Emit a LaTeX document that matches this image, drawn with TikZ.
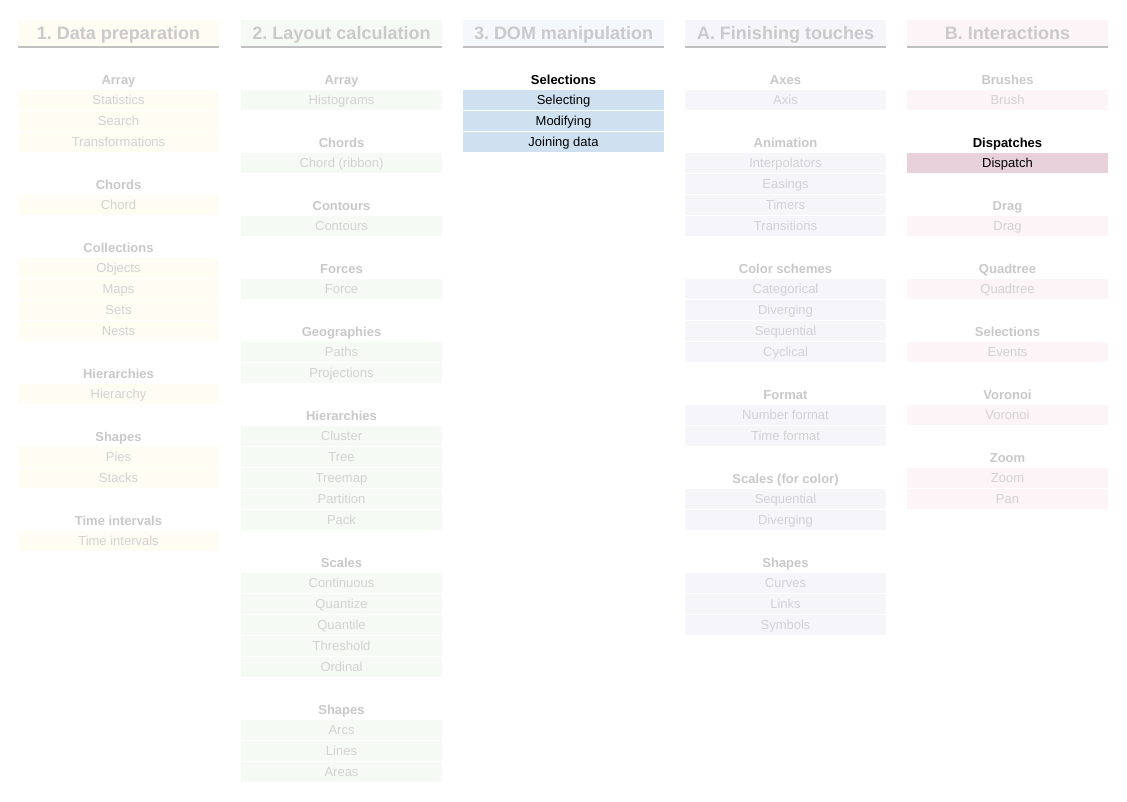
\documentclass[tikz,border=0pt]{standalone}
\usepackage{fontspec}
\setmainfont{Liberation Sans}
\frenchspacing
\definecolor{hdrtext}{HTML}{CACACA}
\definecolor{titletext}{HTML}{C8C8C8}
\definecolor{itemtext}{HTML}{D2D2D2}
\definecolor{hline}{HTML}{C0C0C0}
\definecolor{fillA}{HTML}{FFFCF4}
\definecolor{fillB}{HTML}{F6FAF4}
\definecolor{fillC}{HTML}{F4F7FB}
\definecolor{fillD}{HTML}{F6F6FA}
\definecolor{fillE}{HTML}{FCF4F6}
\definecolor{hiC}{HTML}{CFE1F1}
\definecolor{hiE}{HTML}{E9D1DB}
\colorlet{rowfill}{fillA}
\colorlet{hifill}{hiC}
\tikzset{
  hdr/.style={rectangle, inner sep=0pt, minimum width=201pt, minimum height=26pt,
    text height=15pt, text depth=2pt,
    text=hdrtext, font=\fontsize{18}{20}\selectfont\bfseries},
  hrule/.style={draw=hline, line width=2pt},
  kt/.style={inner sep=0pt, text height=11.5pt, text depth=1pt,
    text=titletext, font=\fontsize{13}{15}\selectfont\bfseries},
  kT/.style={kt, text=black},
  ki/.style={rectangle, inner sep=0pt, minimum width=201pt, minimum height=20pt,
    text height=11.5pt, text depth=1pt,
    fill=rowfill, text=itemtext, font=\fontsize{13}{15}\selectfont},
  kh/.style={ki, fill=hifill, text=black},
}
\newcommand\mycolumn[3]{%
  \foreach \t/\k [count=\n] in {#3} {%
    \pgfmathsetmacro\yy{58+21*\n}%
    \if\k b\relax\else
      \if\k t\relax
        \node[kt] (c#1-\n) at (#2+100.5,\yy) {\t};
      \else\if\k T\relax
        \node[kT] (c#1-\n) at (#2+100.5,\yy) {\t};
      \else\if\k h\relax
        \node[kh] (c#1-\n) at (#2+100.5,\yy-0.5) {\t};
      \else
        \node[ki] (c#1-\n) at (#2+100.5,\yy-0.5) {\t};
      \fi\fi\fi
    \fi
  }%
}
\begin{document}
\begin{tikzpicture}[x=1pt,y=-1pt]
\useasboundingbox (0,0) rectangle (1127,801);
% headers
\node[hdr, fill=fillA] (h1) at (118.5,33) {1. Data preparation};
\node[hdr, fill=fillB] (h2) at (341.5,33) {2. Layout calculation};
\node[hdr, fill=fillC] (h3) at (563.5,33) {3. DOM manipulation};
\node[hdr, fill=fillD] (h4) at (785.5,33) {A. Finishing touches};
\node[hdr, fill=fillE] (h5) at (1007.5,33) {B. Interactions};
\foreach \h in {h1,h2,h3,h4,h5}
  \draw[hrule] ([yshift=-1pt]\h.south west) -- ([yshift=-1pt]\h.south east);
% column 1
\colorlet{rowfill}{fillA}
\mycolumn{1}{18}{Array/t, Statistics/i, Search/i, Transformations/i, x/b,
  Chords/t, Chord/i, x/b,
  Collections/t, Objects/i, Maps/i, Sets/i, Nests/i, x/b,
  Hierarchies/t, Hierarchy/i, x/b,
  Shapes/t, Pies/i, Stacks/i, x/b,
  Time intervals/t, Time intervals/i}
% column 2
\colorlet{rowfill}{fillB}
\mycolumn{2}{241}{Array/t, Histograms/i, x/b,
  Chords/t, Chord (ribbon)/i, x/b,
  Contours/t, Contours/i, x/b,
  Forces/t, Force/i, x/b,
  Geographies/t, Paths/i, Projections/i, x/b,
  Hierarchies/t, Cluster/i, Tree/i, Treemap/i, Partition/i, Pack/i, x/b,
  Scales/t, Continuous/i, Quantize/i, Quantile/i, Threshold/i, Ordinal/i, x/b,
  Shapes/t, Arcs/i, Lines/i, Areas/i}
% column 3
\colorlet{hifill}{hiC}
\mycolumn{3}{463}{Selections/T, Selecting/h, Modifying/h, Joining data/h}
% column 4
\colorlet{rowfill}{fillD}
\mycolumn{4}{685}{Axes/t, Axis/i, x/b,
  Animation/t, Interpolators/i, Easings/i, Timers/i, Transitions/i, x/b,
  Color schemes/t, Categorical/i, Diverging/i, Sequential/i, Cyclical/i, x/b,
  Format/t, Number format/i, Time format/i, x/b,
  Scales (for color)/t, Sequential/i, Diverging/i, x/b,
  Shapes/t, Curves/i, Links/i, Symbols/i}
% column 5
\colorlet{rowfill}{fillE}
\colorlet{hifill}{hiE}
\mycolumn{5}{907}{Brushes/t, Brush/i, x/b,
  Dispatches/T, Dispatch/h, x/b,
  Drag/t, Drag/i, x/b,
  Quadtree/t, Quadtree/i, x/b,
  Selections/t, Events/i, x/b,
  Voronoi/t, Voronoi/i, x/b,
  Zoom/t, Zoom/i, Pan/i}
\end{tikzpicture}
\end{document}
